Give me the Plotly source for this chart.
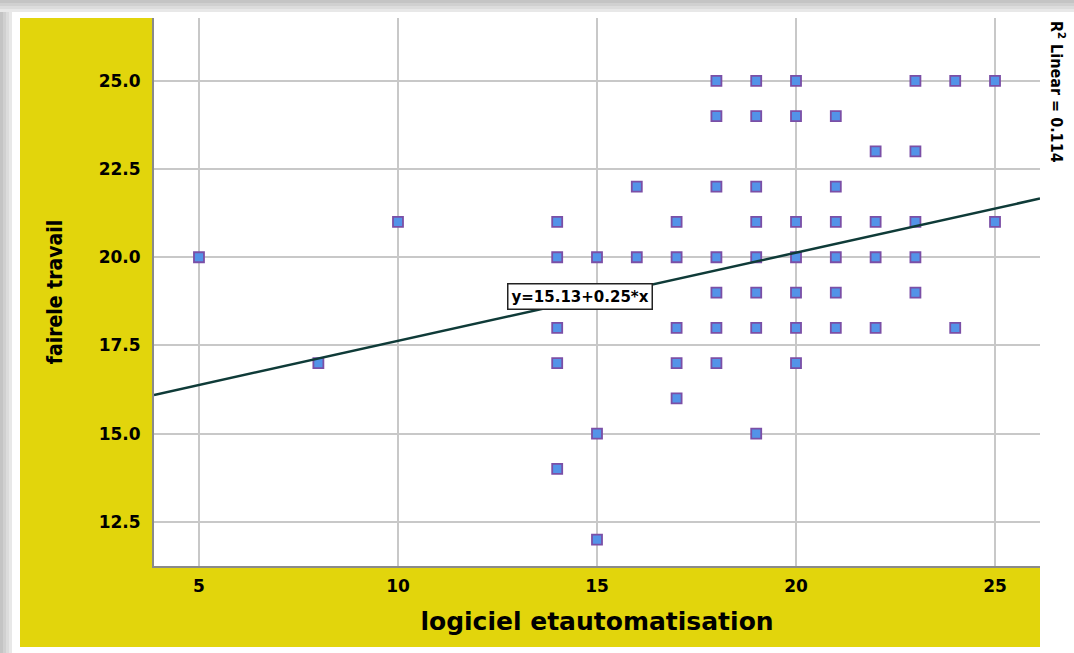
import plotly.graph_objects as go

# Data
x_vals = [5, 8, 10,
          14, 14, 14, 14, 14,
          15, 15, 15,
          16, 16,
          17, 17, 17, 17, 17,
          18, 18, 18, 18, 18, 18, 18,
          19, 19, 19, 19, 19, 19, 19, 19,
          20, 20, 20, 20, 20, 20, 20,
          21, 21, 21, 21, 21, 21,
          22, 22, 22, 22,
          23, 23, 23, 23, 23,
          24, 24,
          25, 25]
y_vals = [20, 17, 21,
          21, 20, 18, 17, 14,
          20, 15, 12,
          22, 20,
          21, 20, 18, 17, 16,
          25, 24, 22, 20, 19, 18, 17,
          25, 24, 22, 21, 20, 19, 18, 15,
          25, 24, 21, 20, 19, 18, 17,
          24, 22, 21, 20, 19, 18,
          23, 21, 20, 18,
          25, 23, 21, 20, 19,
          25, 18,
          25, 21]

intercept = 15.13
slope = 0.25
r2 = 0.114

x_range = [3.87, 26.13]
y_range = [11.25, 26.78]
x_ticks = [5, 10, 15, 20, 25]
y_ticks = [12.5, 15.0, 17.5, 20.0, 22.5, 25.0]

x_title = "logiciel etautomatisation"
y_title = "fairele travail"

YELLOW = "#E2D50C"
WIDE = "DejaVu Sans, Verdana, sans-serif"
NARROW = "Liberation Sans Narrow, DejaVu Sans Condensed, Arial Narrow, Liberation Sans, sans-serif"

fig = go.Figure()

fig.add_trace(go.Scatter(
    x=x_vals, y=y_vals, mode="markers",
    marker=dict(symbol="square", size=10, color="#5393E8",
                line=dict(color="#7B4FA6", width=1.8)),
    showlegend=False, hoverinfo="x+y",
))

line_x = x_range
line_y = [intercept + slope * v for v in line_x]
fig.add_trace(go.Scatter(
    x=line_x, y=line_y, mode="lines",
    line=dict(color="#0F3B38", width=2.5),
    showlegend=False, hoverinfo="skip",
))

fig.add_annotation(
    x=14.57, y=18.88, xref="x", yref="y",
    text=f"y={intercept:.2f}+{slope:.2f}*x",
    showarrow=False,
    font=dict(family=WIDE, size=15, color="black", weight="bold"),
    bgcolor="white", bordercolor="#222222", borderwidth=1.5, borderpad=3,
)

# plot area pixel geometry: left 154, right 1040, top 18, bottom 566
W, H = 1074, 653
L, R, T, B = 154, 1040, 18, 566
pw, ph = R - L, B - T

def px(xp):
    return (xp - L) / pw

def py(yp):
    return (B - yp) / ph

# R² label, vertical at right
fig.add_annotation(
    x=px(1057), y=py(19), xref="paper", yref="paper",
    xanchor="center", yanchor="top",
    text=f"R<sup>2</sup> Linear = {r2:.3f}",
    textangle=90, showarrow=False,
    font=dict(family=NARROW, size=16, color="black", weight="bold"),
)

shapes = []
# grey shadow bands top and left
greys = ["#c4c4c4", "#d0d0d0", "#dcdcdc", "#e8e8e8"]
for i, g in enumerate(greys):
    shapes.append(dict(type="rect", xref="paper", yref="paper", layer="below",
                       x0=px(0), x1=px(W), y0=py(3 * i + 3), y1=py(3 * i),
                       fillcolor=g, line=dict(width=0)))
    shapes.append(dict(type="rect", xref="paper", yref="paper", layer="below",
                       x0=px(3 * i), x1=px(3 * i + 3), y0=py(H), y1=py(3 * i),
                       fillcolor=g, line=dict(width=0)))
# yellow panel
shapes.append(dict(type="rect", xref="paper", yref="paper", layer="below",
                   x0=px(20), x1=px(1040), y0=py(647), y1=py(18),
                   fillcolor=YELLOW, line=dict(width=0)))
# white plot area
shapes.append(dict(type="rect", xref="paper", yref="paper", layer="below",
                   x0=0, x1=1, y0=0, y1=1,
                   fillcolor="white", line=dict(width=0)))

fig.update_layout(
    width=W, height=H,
    margin=dict(l=L, r=W - R, t=T, b=H - B),
    paper_bgcolor="white",
    plot_bgcolor="white",
    shapes=shapes,
    font=dict(family="Liberation Sans, Arial, sans-serif", color="black"),
)

fig.update_xaxes(
    range=x_range, tickvals=x_ticks, ticktext=[str(v) for v in x_ticks],
    showgrid=True, gridcolor="#C8C8C8", gridwidth=2,
    showline=True, linecolor="#8A8A8A", linewidth=2,
    zeroline=False, ticks="", ticklen=0, ticklabelstandoff=4,
    tickfont=dict(family=WIDE, size=17, weight="bold"),
    title=dict(text=x_title, font=dict(family=WIDE, size=25, weight="bold"), standoff=17),
)
fig.update_yaxes(
    range=y_range, tickvals=y_ticks, ticktext=[f"{v:.1f}" for v in y_ticks],
    showgrid=True, gridcolor="#C8C8C8", gridwidth=2,
    showline=True, linecolor="#8A8A8A", linewidth=2,
    zeroline=False, ticks="", ticklen=0, ticklabelstandoff=8,
    tickfont=dict(family=WIDE, size=17, weight="bold"),
    title=dict(text=y_title,
               font=dict(family=NARROW, size=21, weight="bold"),
               standoff=30),
)

fig.write_html("out.html", config={"displayModeBar": False},
               post_script="document.body.style.margin='0';document.body.style.padding='0';")
